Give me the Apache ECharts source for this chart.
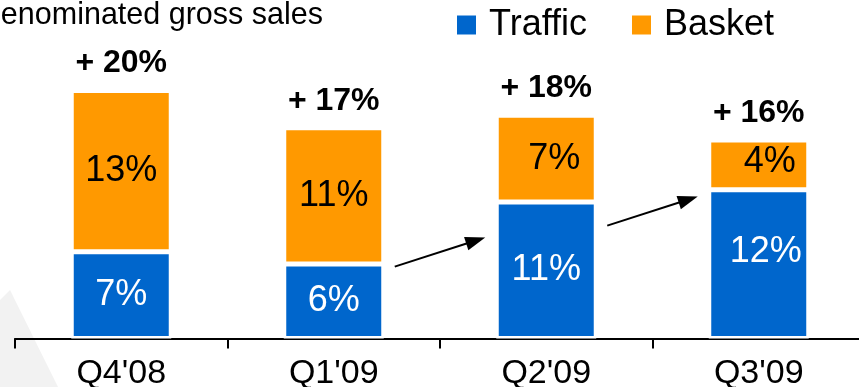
<!DOCTYPE html>
<html>
<head>
<meta charset="utf-8">
<script src="https://cdn.jsdelivr.net/npm/echarts@6/dist/echarts.min.js"></script>
<style>
  html, body { margin: 0; padding: 0; background: #fff; }
  #chart { width: 859px; height: 387px; }
</style>
</head>
<body>
<div id="chart"></div>
<script>
// Quarterly growth split into traffic and basket contributions (percentage points)
const quarters = ["Q4'08", "Q1'09", "Q2'09", "Q3'09"];
const traffic = [7, 6, 11, 12];
const basket = [13, 11, 7, 4];
const growth = [20, 17, 18, 16];
// trend arrows: [from quarter index, from level, to quarter index, to level]
const trendArrows = [[1, 5.8, 2, 8.15], [2, 9.1, 3, 11.45]];

const FONT = "'Liberation Sans', Arial, Helvetica, sans-serif";
const BLUE = '#0066CC';
const ORANGE = '#FF9900';

// a few in-bar labels are set off-centre
const basketNudge = { 2: [8, 0], 3: [11, -3] };
const trafficNudge = { 3: [7, -12] };
function withNudge(values, nudge) {
  return values.map((v, i) => nudge[i] ? { value: v, label: { offset: nudge[i] } } : v);
}

const chart = echarts.init(document.getElementById('chart'), null, { renderer: 'canvas' });

chart.setOption({
  animation: false,
  backgroundColor: '#fff',
  grid: { left: 15, top: 40.9, width: 850, height: 297.6, containLabel: false, outerBoundsMode: 'none' },
  legend: {
    data: ['Traffic', 'Basket'],
    left: 457, top: 7, padding: 0,
    icon: 'rect', itemWidth: 19, itemHeight: 19, itemGap: 45,
    itemStyle: { borderWidth: 0 },
    textStyle: { fontSize: 36, color: '#000', fontFamily: FONT, lineHeight: 36, padding: [0, 0, 0, 8] }
  },
  xAxis: {
    type: 'category',
    data: quarters,
    axisLine: { lineStyle: { color: '#000', width: 2 } },
    axisTick: { show: true, length: 10, alignWithLabel: false, lineStyle: { color: '#000', width: 2 } },
    axisLabel: { fontSize: 34, color: '#000', fontFamily: FONT, margin: 18 }
  },
  yAxis: { type: 'value', min: 0, max: 24, show: false, splitLine: { show: false } },
  series: [
    {
      name: 'Traffic', type: 'bar', stack: 'sales', barWidth: 100, barGap: '-100%',
      data: withNudge(traffic, trafficNudge),
      itemStyle: { color: BLUE, borderColor: '#fff', borderWidth: 2.5 },
      label: { show: true, position: 'inside', formatter: '{c}%', color: '#fff', fontSize: 36, fontFamily: FONT }
    },
    {
      name: 'Basket', type: 'bar', stack: 'sales', barWidth: 100, barGap: '-100%',
      data: withNudge(basket, basketNudge),
      itemStyle: { color: ORANGE, borderColor: '#fff', borderWidth: 2.5 },
      label: { show: true, position: 'inside', formatter: '{c}%', color: '#000', fontSize: 36, fontFamily: FONT }
    },
    {
      name: 'Total', type: 'bar', barWidth: 100, barGap: '-100%', silent: true,
      data: growth,
      itemStyle: { color: 'rgba(0,0,0,0)' },
      label: {
        show: true, position: 'top', distance: 12, formatter: '+ {c}%',
        color: '#000', fontSize: 32, fontWeight: 'bold', fontFamily: FONT, lineHeight: 30
      }
    }
  ]
});

// Trend arrows placed through the grid's own scales
function arrowShapes(p0, p1) {
  const dx = p1[0] - p0[0], dy = p1[1] - p0[1];
  const len = Math.sqrt(dx * dx + dy * dy);
  const ux = dx / len, uy = dy / len;
  const headLen = 20, headHalf = 7;
  const bx = p1[0] - ux * headLen, by = p1[1] - uy * headLen;
  return [
    {
      type: 'line', z: 50,
      shape: { x1: p0[0], y1: p0[1], x2: bx + ux * 2, y2: by + uy * 2 },
      style: { stroke: '#000', lineWidth: 2 }
    },
    {
      type: 'polygon', z: 50,
      shape: { points: [[p1[0], p1[1]], [bx - uy * headHalf, by + ux * headHalf], [bx + uy * headHalf, by - ux * headHalf]] },
      style: { fill: '#000' }
    }
  ];
}

const arrowEls = [];
trendArrows.forEach(([i0, v0, i1, v1]) => {
  const a = chart.convertToPixel({ gridIndex: 0 }, [i0, v0]);
  const b = chart.convertToPixel({ gridIndex: 0 }, [i1, v1]);
  arrowEls.push(...arrowShapes([a[0] + 61, a[1]], [b[0] - 61, b[1]]));
});

chart.setOption({
  graphic: [
    {
      type: 'polygon', z: -10, silent: true,
      shape: { points: [[0, 300], [10, 290], [58, 387], [0, 387]] },
      style: { fill: '#e2e2e2', opacity: 0.45 }
    },
    {
      type: 'text', x: 323, y: 16, z: 20,
      style: {
        text: 'denominated gross sales', fill: '#000',
        font: "30.5px 'Liberation Sans', Arial, sans-serif",
        align: 'right', verticalAlign: 'middle'
      }
    },
    ...arrowEls
  ]
});
</script>
</body>
</html>
